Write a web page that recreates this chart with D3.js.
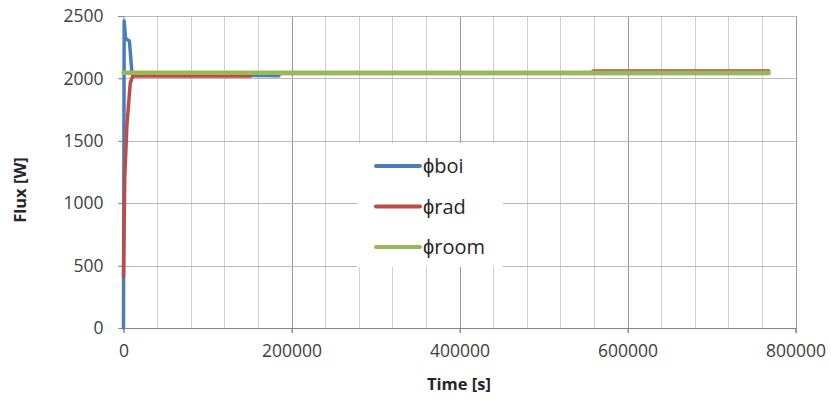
<!DOCTYPE html>
<html lang="en">
<head>
<meta charset="utf-8">
<title>Flux vs time</title>
<script src="https://cdn.jsdelivr.net/npm/d3@7"></script>
<style>
  body { margin: 0; background: #fff; }
  text { font-family: "Open Sans", "Liberation Sans", sans-serif; }
</style>
</head>
<body>
<script>
// Series data [time s, flux W]
var boiData = [[0, 0], [800, 2460], [2500, 2320], [7000, 2300], [10000, 2050], [13000, 2025], [185000, 2022], [186000, 2040], [768000, 2040]];
var radData = [[0, 410], [1500, 1200], [4000, 1620], [8000, 1960], [11000, 2020], [151000, 2020], [152000, 2042], [558000, 2042], [559000, 2060], [768000, 2060]];
var roomData = [[0, 2045], [768000, 2045]];
var seriesNames = ["\u03d5boi", "\u03d5rad", "\u03d5room"];
var seriesColors = ["#4a7ebb", "#be4b48", "#98b954"];
var yTicks = [0, 500, 1000, 1500, 2000, 2500];
var xTicks = [0, 200000, 400000, 600000, 800000];

var w = 831, h = 403;
var svg = d3.select("body").append("svg").attr("width", w).attr("height", h);

var x = d3.scaleLinear().domain([0, 800000]).range([123.5, 795.5]);
var y = d3.scaleLinear().domain([0, 2500]).range([328, 16]);

// minor vertical gridlines every 40000
var minor = d3.range(40000, 800001, 40000).filter(function(v) { return v % 200000 !== 0; });
svg.append("g").selectAll("line").data(minor).enter().append("line")
  .attr("x1", function(d) { return Math.round(x(d)) + 0.5; })
  .attr("x2", function(d) { return Math.round(x(d)) + 0.5; })
  .attr("y1", y(2500)).attr("y2", y(0))
  .attr("stroke", "#d0d0d0").attr("stroke-width", 1);

// major vertical gridlines
svg.append("g").selectAll("line").data(xTicks.slice(1)).enter().append("line")
  .attr("x1", function(d) { return Math.round(x(d)) + 0.5; })
  .attr("x2", function(d) { return Math.round(x(d)) + 0.5; })
  .attr("y1", y(2500)).attr("y2", y(0) + 5)
  .attr("stroke", "#9a9a9a").attr("stroke-width", 1);

// horizontal gridlines
svg.append("g").selectAll("line").data(yTicks.slice(1)).enter().append("line")
  .attr("x1", x(0) - 5).attr("x2", x(800000))
  .attr("y1", function(d) { return Math.round(y(d)) + 0.5; })
  .attr("y2", function(d) { return Math.round(y(d)) + 0.5; })
  .attr("stroke", "#b8b8b8").attr("stroke-width", 1);

// axes
var yAxis = d3.axisLeft(y).tickValues(yTicks).tickSize(5).tickPadding(15).tickFormat(d3.format("d"));
var xAxis = d3.axisBottom(x).tickValues(xTicks).tickSize(5).tickPadding(12).tickFormat(d3.format("d"));

var gy = svg.append("g").attr("transform", "translate(" + x(0) + ",0)").call(yAxis);
var gx = svg.append("g").attr("transform", "translate(0," + y(0) + ")").call(xAxis);
[gy, gx].forEach(function(g) {
  g.select(".domain").attr("stroke", "#868686");
  g.selectAll(".tick line").attr("stroke", "#868686");
  g.selectAll("text").attr("font-size", 17.5).attr("fill", "#404040")
    .style("font-family", "'Open Sans', sans-serif");
});

// lines
var line = d3.line().x(function(d) { return x(d[0]); }).y(function(d) { return y(d[1]); });
[boiData, radData, roomData].forEach(function(data, i) {
  svg.append("path").datum(data)
    .attr("d", line)
    .attr("fill", "none")
    .attr("stroke", seriesColors[i])
    .attr("stroke-width", i === 2 ? 4.5 : 3.5)
    .attr("stroke-linejoin", "round")
    .attr("stroke-linecap", "round");
});

// legend
var leg = svg.append("g");
leg.append("rect").attr("x", 357).attr("y", 143).attr("width", 146).attr("height", 124).attr("fill", "#fff");
var rows = leg.selectAll("g.row").data(seriesNames).enter().append("g")
  .attr("transform", function(d, i) { return "translate(376," + (166 + i * 40.5) + ")"; });
rows.append("line").attr("x1", 0).attr("x2", 44)
  .attr("stroke", function(d, i) { return seriesColors[i]; })
  .attr("stroke-width", 4).attr("stroke-linecap", "round");
rows.append("text").attr("x", 47).attr("dy", "0.35em")
  .attr("font-size", 20).attr("fill", "#262626").text(function(d) { return d; });

// axis titles
svg.append("text").attr("x", 459).attr("y", 390).attr("text-anchor", "middle")
  .attr("font-size", 16.5).attr("font-weight", "bold").attr("fill", "#262626").text("Time [s]");
svg.append("text").attr("transform", "translate(26,190) rotate(-90)").attr("text-anchor", "middle")
  .attr("font-size", 16.5).attr("font-weight", "bold").attr("fill", "#262626").text("Flux [W]");
</script>
</body>
</html>
